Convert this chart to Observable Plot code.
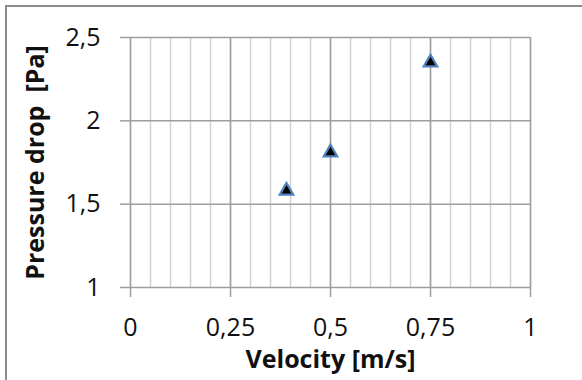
<!DOCTYPE html>
<html>
<head>
<meta charset="utf-8">
<script src="https://cdn.jsdelivr.net/npm/d3@7"></script>
<script src="https://cdn.jsdelivr.net/npm/@observablehq/plot@0.6"></script>
<style>
  html, body { margin: 0; padding: 0; background: #fff; overflow: hidden; width: 582px; height: 380px; }
  #wrap { position: relative; width: 582px; height: 380px; }
  #border { position: absolute; left: 5px; top: 5px; right: 0; bottom: 0;
            border-left: 2px solid #8c8c8c; border-top: 2px solid #8c8c8c; pointer-events: none; }
  #chart { position: absolute; left: 0; top: 0; }
</style>
</head>
<body>
<div id="wrap"><div id="chart"></div><div id="border"></div></div>
<script>
// Data
const velocity = [0.39, 0.5, 0.75];
const pressureDrop = [1.58, 1.81, 2.35];
const xTicks = [0, 0.25, 0.5, 0.75, 1];
const yTicks = [1, 1.5, 2, 2.5];
const xTitle = "Velocity [m/s]";
const yTitle = "Pressure drop\u00a0 [Pa]";

const points = velocity.map((v, i) => ({x: v, y: pressureDrop[i]}));
const fmt = d => String(d).replace(".", ",");

const chart = Plot.plot({
  width: 582,
  height: 380,
  marginLeft: 130,
  marginRight: 52,
  marginTop: 37,
  marginBottom: 93,
  style: {fontFamily: "Open Sans", fontSize: "25px", color: "#111", background: "transparent"},
  x: {domain: [0, 1]},
  y: {domain: [1, 2.5]},
  marks: [
    Plot.gridX({ticks: 20, stroke: "#d0d0d0", strokeOpacity: 1, strokeWidth: 1.5}),
    Plot.gridX(xTicks, {stroke: "#9e9e9e", strokeOpacity: 1, strokeWidth: 1.5}),
    Plot.gridY(yTicks, {stroke: "#9e9e9e", strokeOpacity: 1, strokeWidth: 1.5}),
    Plot.axisX(xTicks, {tickSize: 10, tickPadding: 21, stroke: "#9e9e9e", strokeWidth: 1.5, tickFormat: fmt, fill: "#111", label: null}),
    Plot.axisY(yTicks, {tickSize: 10, tickPadding: 20, stroke: "#9e9e9e", strokeWidth: 1.5, tickFormat: fmt, fill: "#111", label: null}),
    Plot.text([xTitle], {frameAnchor: "bottom", dy: 72, lineAnchor: "middle", fontWeight: "bold", fontSize: 25, letterSpacing: "0.4px", fill: "#111"}),
    Plot.text([yTitle], {frameAnchor: "left", textAnchor: "middle", dx: -95, rotate: -90, fontWeight: "bold", fontSize: 25, letterSpacing: "0.4px", fill: "#111"}),
    Plot.dot(points, {x: "x", y: "y", symbol: "triangle", r: 5, fill: "#000", stroke: "#4f81bd", strokeWidth: 2.2})
  ]
});
document.getElementById("chart").appendChild(chart);
</script>
</body>
</html>
